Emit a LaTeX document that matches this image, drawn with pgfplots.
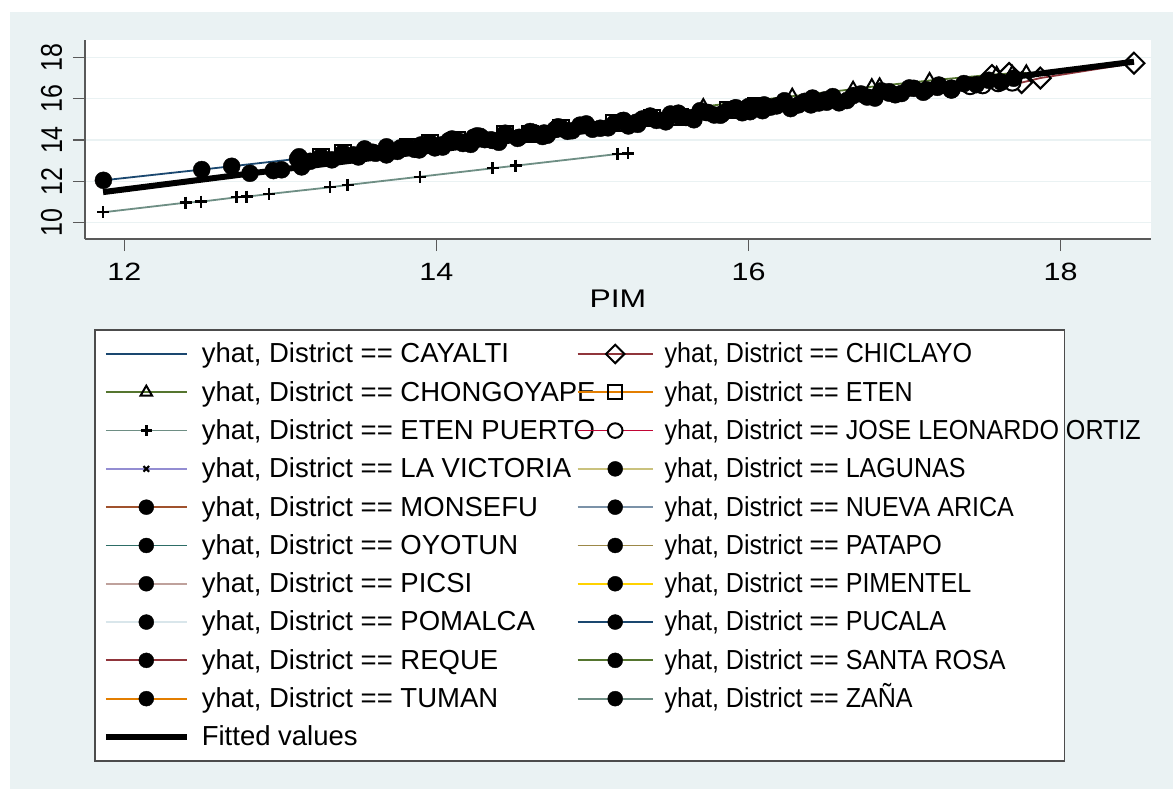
\documentclass[border=0pt]{standalone}
\usepackage{fontspec}
\setmainfont{Liberation Sans}
\usepackage{pgfplots}
\pgfplotsset{compat=1.18}
\definecolor{bgc}{RGB}{234,242,243}
\definecolor{cNavy}{RGB}{26,71,111}
\definecolor{cMaroon}{RGB}{144,53,59}
\definecolor{cForest}{RGB}{85,117,47}
\definecolor{cDkor}{RGB}{227,126,0}
\definecolor{cTeal}{RGB}{110,142,132}
\definecolor{cCran}{RGB}{193,5,52}
\definecolor{cLav}{RGB}{147,141,210}
\definecolor{cKhaki}{RGB}{202,194,126}
\definecolor{cSienna}{RGB}{160,82,45}
\definecolor{cEmid}{RGB}{123,146,168}
\definecolor{cEmer}{RGB}{45,109,102}
\definecolor{cBrown}{RGB}{156,136,71}
\definecolor{cErose}{RGB}{191,161,156}
\definecolor{cGold}{RGB}{255,210,0}
\definecolor{cBgray}{RGB}{217,230,235}
\newcommand{\La}[1]{\makebox[375pt][l]{#1}}
\newcommand{\Lb}[1]{\makebox[392pt][l]{\scalebox{0.912}[1]{#1}}}
\newcommand{\sx}[1]{\scalebox{1.22}[1]{#1}}
\newcommand{\sy}[1]{\scalebox{1}[1.2]{#1}}
\pgfplotsset{
  leg1/.style={legend image code/.code={%
    \draw[mark repeat=2,mark phase=2,##1,every mark/.append style={scale=0.88}] plot coordinates {(0pt,0pt) (40.5pt,0pt) (81pt,0pt)};
    \path (93pt,0pt);}},
  leg2/.style={legend image code/.code={%
    \draw[mark repeat=2,mark phase=2,##1,every mark/.append style={scale=0.88}] plot coordinates {(0pt,0pt) (37.5pt,0pt) (75pt,0pt)};
    \path (86pt,0pt);}},
  ser/.style={draw=#1, line width=1.8pt},
  circ/.style={mark=*, mark size=8.5pt, mark options={solid, draw=black, fill=black, line width=0.4pt}},
}
\begin{document}
\begin{tikzpicture}
\useasboundingbox (0,0) rectangle (1173pt,-789pt);
\fill[white] (0,0) rectangle (1173pt,-789pt);
\fill[bgc] (10pt,-12pt) rectangle (1173pt,-789pt);
\begin{axis}[
  at={(85pt,-239pt)}, anchor=south west,
  scale only axis, width=1065.7pt, height=199pt,
  xmin=11.748, xmax=18.577, ymin=9.21, ymax=18.84,
  axis lines*=left,
  axis line style={draw=black!65, line width=1.4pt},
  axis background/.style={fill=white},
  xtick={12,14,16,18}, xticklabels={\sx{12},\sx{14},\sx{16},\sx{18}},
  ytick={10,12,14,16,18}, yticklabels={\sy{10},\sy{12},\sy{14},\sy{16},\sy{18}},
  tick align=outside, major tick length=12pt,
  tick style={draw=black!65, line width=1.4pt},
  ymajorgrids, grid style={draw=bgc, line width=1.6pt},
  tick label style={font=\fontsize{25}{30}\selectfont},
  xticklabel style={inner sep=0pt, anchor=north},
  xticklabel shift=12pt,
  yticklabel style={rotate=90, anchor=south, inner sep=0pt},
  yticklabel shift=10.7pt,
  xlabel={\scalebox{1.25}[1]{PIM}},
  xlabel style={font=\fontsize{25.5}{30}\selectfont, at={(axis description cs:0.5,0)}, anchor=north, inner sep=0pt, yshift=-51pt},
  legend columns=2,
  legend cell align=left,
  legend style={at={(0.00845,-0.4523)}, anchor=north west, draw=black!70, line width=1.6pt, fill=white,
    inner xsep=8pt, inner ysep=5pt, font=\fontsize{27.5}{32}\selectfont,
    nodes={inner xsep=0pt, inner ysep=5pt, text height=23pt, text depth=5.3pt},
    column sep=0pt, row sep=0pt},
]
% 1 CAYALTI
\addplot[ser=cNavy, mark=none, leg1] coordinates {(13.45,13.33) (13.8,13.63) (14.2,13.97) (14.6,14.31) (15.0,14.65)};
\addlegendentry{\La{yhat, District == CAYALTI}}
% 2 CHICLAYO
\addplot[ser=cMaroon, mark=square, mark size=7.4pt, mark options={solid, rotate=45, draw=black, fill=white, line width=2pt}, leg2]
  coordinates {(17.56,17.12) (17.67,17.22) (17.75,16.78) (17.87,17.00) (18.47,17.72)};
\addlegendentry{\Lb{yhat, District == CHICLAYO}}
% 3 CHONGOYAPE
\addplot[ser=cForest, mark=triangle, mark size=7.5pt, mark options={solid, draw=black, fill=white, line width=2pt}, leg1]
  coordinates {(15.71,15.62) (16.28,16.12) (16.67,16.46) (16.79,16.58) (16.84,16.62) (17.16,16.88) (17.59,17.18) (17.69,17.22) (17.78,17.25)};
\addlegendentry{\La{yhat, District == CHONGOYAPE}}
% 4 ETEN
\addplot[ser=cDkor, mark=square, mark size=8pt, mark options={solid, draw=black, fill=white, line width=2pt}, leg2]
  coordinates {(13.26,13.19) (13.40,13.37) (13.82,13.67) (13.96,13.85) (14.13,13.99) (14.44,14.29) (14.60,14.31) (14.80,14.58) (15.14,14.81) (15.38,15.08) (15.56,15.12) (15.87,15.45) (16.05,15.66)};
\addlegendentry{\Lb{yhat, District == ETEN}}
% 5 ETEN PUERTO
\addplot[ser=cTeal, mark=+, mark size=6pt, mark options={solid, draw=black, line width=2.4pt}, leg1]
  coordinates {(11.864,10.503) (12.393,10.968) (12.491,11.016) (12.720,11.229) (12.784,11.258) (12.929,11.389) (13.318,11.713) (13.431,11.824) (13.894,12.225) (14.360,12.632) (14.507,12.758) (15.161,13.324) (15.229,13.357)};
\addlegendentry{\La{yhat, District == ETEN PUERTO}}
% 6 JOSE LEONARDO ORTIZ
\addplot[ser=cCran, mark=*, mark size=8.3pt, mark options={solid, draw=black, fill=white, line width=2pt}, leg2]
  coordinates {(17.30,16.46) (17.42,16.62) (17.50,16.66) (17.60,16.76) (17.69,16.79)};
\addlegendentry{\Lb{yhat, District == JOSE LEONARDO ORTIZ}}
% 7 LA VICTORIA
\addplot[ser=cLav, mark=x, mark size=4.5pt, mark options={solid, draw=black, line width=2.2pt}, leg1]
  coordinates {(16.90,16.30) (17.05,16.42) (17.20,16.55) (17.35,16.68) (17.50,16.81)};
\addlegendentry{\La{yhat, District == LA VICTORIA}}
% 8 LAGUNAS
\addplot[ser=cKhaki, circ, leg2]
  coordinates {(14.20,13.88) (14.28,14.18) (14.36,13.98) (14.44,14.29) (14.52,14.08) (14.60,14.31) (14.68,14.17) (14.76,14.51) (14.84,14.42) (14.92,14.72) (15.00,14.52)};
\addlegendentry{\Lb{yhat, District == LAGUNAS}}
% 9 MONSEFU
\addplot[ser=cSienna, circ, leg1]
  coordinates {(16.40,15.70) (16.49,15.94) (16.58,15.80) (16.67,16.15) (16.76,16.08) (16.85,16.38) (16.94,16.19) (17.03,16.52) (17.12,16.31) (17.21,16.55) (17.30,16.42)};
\addlegendentry{\La{yhat, District == MONSEFU}}
% 10 NUEVA ARICA
\addplot[ser=cEmid, circ, leg2]
  coordinates {(12.805,12.39) (12.955,12.52) (13.008,12.56) (13.136,12.70)};
\addlegendentry{\Lb{yhat, District == NUEVA ARICA}}
% 11 OYOTUN
\addplot[ser=cEmer, circ, leg1]
  coordinates {(13.50,13.18) (13.59,13.41) (13.68,13.28) (13.77,13.62) (13.86,13.55) (13.95,13.86) (14.04,13.66) (14.13,13.99) (14.22,13.79) (14.31,14.02) (14.40,13.89)};
\addlegendentry{\La{yhat, District == OYOTUN}}
% 12 PATAPO
\addplot[ser=cBrown, circ, leg2]
  coordinates {(15.10,14.59) (15.19,14.93) (15.28,14.86) (15.37,15.16) (15.46,14.97) (15.55,15.30) (15.64,15.09) (15.73,15.33) (15.82,15.20) (15.91,15.54) (16.00,15.47)};
\addlegendentry{\Lb{yhat, District == PATAPO}}
% 13 PICSI
\addplot[ser=cErose, circ, leg1]
  coordinates {(14.60,14.41) (14.69,14.34) (14.78,14.64) (14.87,14.45) (14.96,14.78) (15.05,14.57) (15.14,14.81) (15.23,14.68) (15.32,15.02) (15.41,14.95) (15.50,15.26)};
\addlegendentry{\La{yhat, District == PICSI}}
% 14 PIMENTEL
\addplot[ser=cGold, circ, leg2]
  coordinates {(16.90,16.34) (16.98,16.25) (17.06,16.50) (17.14,16.43) (17.22,16.66) (17.30,16.51) (17.38,16.73) (17.46,16.68) (17.54,16.89) (17.62,16.80) (17.70,16.99)};
\addlegendentry{\Lb{yhat, District == PIMENTEL}}
% 15 POMALCA
\addplot[ser=cBgray, circ, leg1]
  coordinates {(15.20,14.95) (15.29,14.76) (15.38,15.08) (15.47,14.88) (15.56,15.12) (15.65,14.98) (15.74,15.33) (15.83,15.26) (15.92,15.56) (16.01,15.37) (16.10,15.70)};
\addlegendentry{\La{yhat, District == POMALCA}}
% 16 PUCALA
\addplot[ser=cNavy, circ, leg2]
  coordinates {(11.866,12.05) (12.496,12.57) (12.688,12.73) (13.11,13.09)};
\addlegendentry{\Lb{yhat, District == PUCALA}}
% 17 REQUE
\addplot[ser=cMaroon, circ, leg1]
  coordinates {(16.00,15.62) (16.09,15.42) (16.18,15.65) (16.27,15.52) (16.36,15.87) (16.45,15.79) (16.54,16.10) (16.63,15.91) (16.72,16.23) (16.81,16.03) (16.90,16.27)};
\addlegendentry{\La{yhat, District == REQUE}}
% 18 SANTA ROSA
\addplot[ser=cForest, circ, leg2]
  coordinates {(13.90,13.76) (13.99,13.62) (14.08,13.97) (14.17,13.89) (14.26,14.20) (14.35,14.01) (14.44,14.33) (14.53,14.13) (14.62,14.37) (14.71,14.23) (14.80,14.58)};
\addlegendentry{\Lb{yhat, District == SANTA ROSA}}
% 19 TUMAN
\addplot[ser=cDkor, circ, leg1]
  coordinates {(15.60,15.09) (15.69,15.42) (15.78,15.21) (15.87,15.45) (15.96,15.32) (16.05,15.66) (16.14,15.59) (16.23,15.90) (16.32,15.70) (16.41,16.03) (16.50,15.83)};
\addlegendentry{\La{yhat, District == TUMAN}}
% 20 ZANA
\addplot[ser=cTeal, circ, leg2]
  coordinates {(13.12,13.19) (13.19,12.97) (13.26,13.19) (13.33,13.04) (13.40,13.37) (13.47,13.28) (13.54,13.57) (13.61,13.36) (13.68,13.67) (13.75,13.45) (13.82,13.67) (13.89,13.52) (13.96,13.85) (14.03,13.76) (14.10,14.05) (14.17,13.83) (14.24,14.14)};
\addlegendentry{\Lb{yhat, District == ZAÑA}}
% 21 Fitted
\addplot[draw=black, line width=6pt, mark=none, leg1] coordinates {(11.864,11.48) (18.47,17.79)};
\addlegendentry{\La{Fitted values}}
\end{axis}
\end{tikzpicture}
\end{document}
